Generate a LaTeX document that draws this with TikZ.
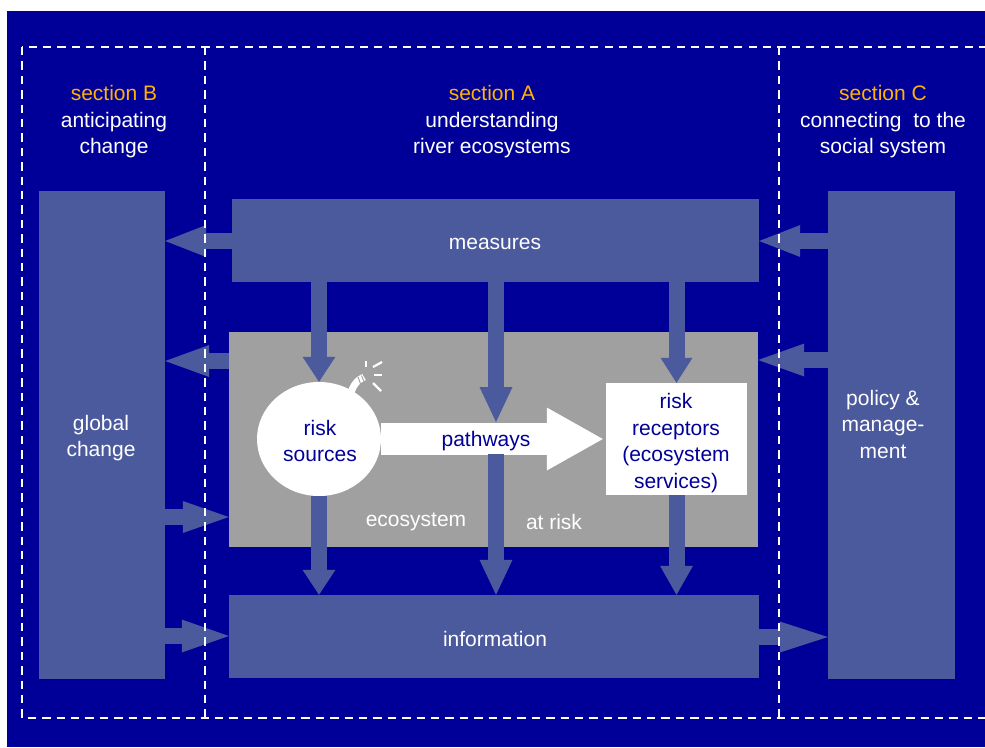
\documentclass[tikz,border=0pt]{standalone}
\usepackage{fontspec}
\setmainfont{Liberation Sans}
\usetikzlibrary{arrows.meta,shapes.geometric}
\definecolor{bgblue}{HTML}{000099}
\definecolor{boxc}{HTML}{4B5A9C}
\definecolor{ecogray}{HTML}{A0A0A0}
\definecolor{secorange}{HTML}{FFB300}
\definecolor{txtblue}{HTML}{000099}
\tikzset{
  box/.style={fill=boxc, draw=none, inner sep=0pt},
  lbl/.style={inner sep=0pt, align=center, text=white, font=\fontsize{21}{26.5}\selectfont},
  blockarrow/.style={draw=boxc, line width=16pt},
  dashline/.style={draw=white, line width=2pt, dash pattern=on 8.3pt off 6.1pt}
}
\begin{document}
\begin{tikzpicture}[x=1pt,y=-1pt, font=\fontsize{21}{26.5}\selectfont]
\useasboundingbox (0,0) rectangle (985,747);
\fill[bgblue] (7,11) rectangle (985,747);

% boxes
\node[box, minimum width=126pt, minimum height=488pt] (global) at (102,435) {};
\node[lbl] (globallbl) at (101,438) {global\\change};
\node[box, minimum width=527pt, minimum height=83pt] (measures) at (495.5,240.5) {};
\node[lbl] (measureslbl) at (495,244) {measures};
\node[fill=ecogray, inner sep=0pt, minimum width=529pt, minimum height=215pt] (eco) at (493.5,439.5) {};
\node[box, minimum width=530pt, minimum height=83pt] (info) at (494,636.5) {};
\node[lbl] (infolbl) at (495,638.5) {information};
\node[box, minimum width=127pt, minimum height=488pt] (policy) at (891.5,435) {};
\node[lbl] (policylbl) at (883,424) {policy \&\\manage-\\ment};

% ecosystem labels
\node[lbl] (ecolbl) at (416,522) {ecosystem};
\node[lbl] (risklbl) at (554,522) {at risk};

% risk sources and receptors
\node[ellipse, fill=white, inner sep=0pt, minimum width=124pt, minimum height=114pt] (sources) at (319,439) {};
\node[lbl, text=txtblue] (sourceslbl) at (320,441) {risk\\sources};
\node[fill=white, inner sep=0pt, minimum width=141pt, minimum height=112pt] (receptors) at (676.5,439) {};
\node[lbl, text=txtblue] (receptorslbl) at (676,443) {risk\\receptors\\(ecosystem\\services)};

% bomb fuse and sparks
\draw[white, line width=7pt] (350,397) .. controls (352,386) and (357,380) .. (364,377);
\draw[ecogray, line width=0.9pt] (358,377) -- (361,385);
\draw[ecogray, line width=0.9pt] (361.5,375.5) -- (364.5,383);
\draw[white, line width=2.2pt] (366,361) -- (366,367);
\draw[white, line width=2.2pt] (373,367) -- (382,362);
\draw[white, line width=2.2pt] (374,375) -- (382,375);
\draw[white, line width=2.2pt] (373,383) -- (381,391);

% pathways
\coordinate (pwtop) at (496,422);
\coordinate (pwbot) at (496,454);
\draw[white, line width=32pt, -{Triangle[length=56pt,width=63pt,line width=0pt]}, shorten >=3pt]
  (sources.east) -- (receptors.west);
\node[lbl, text=txtblue] (pwlbl) at (486,441) {pathways};

% horizontal arrows
\draw[blockarrow, -{Triangle[length=41pt,width=32pt,line width=0pt]}] (measures.west |- 0,241) -- (global.east |- 0,241);
\draw[blockarrow, -{Triangle[length=44pt,width=32pt,line width=0pt]}] (eco.west |- 0,361) -- (global.east |- 0,361);
\draw[blockarrow, -{Triangle[length=46pt,width=32pt,line width=0pt]}] (global.east |- 0,517) -- (eco.west |- 0,517);
\draw[blockarrow, -{Triangle[length=47pt,width=33pt,line width=0pt]}] (global.east |- 0,636) -- (info.west |- 0,636);
\draw[blockarrow, -{Triangle[length=41pt,width=32pt,line width=0pt]}] (policy.west |- 0,241) -- (measures.east |- 0,241);
\draw[blockarrow, -{Triangle[length=46pt,width=33pt,line width=0pt]}] (policy.west |- 0,360) -- (eco.east |- 0,360);
\draw[blockarrow, -{Triangle[length=48pt,width=31pt,line width=0pt]}] (info.east |- 0,637) -- (policy.west |- 0,637);

% vertical arrows
\draw[blockarrow, -{Triangle[length=25pt,width=33pt,line width=0pt]}] (measures.south -| sources.north) -- (sources.north);
\draw[blockarrow, -{Triangle[length=35pt,width=33pt,line width=0pt]}] (measures.south -| pwtop) -- (pwtop);
\draw[blockarrow, -{Triangle[length=25pt,width=32pt,line width=0pt]}] (measures.south -| receptors.north) -- (receptors.north);
\draw[blockarrow, -{Triangle[length=25pt,width=33pt,line width=0pt]}] (sources.south) -- (info.north -| sources.south);
\draw[blockarrow, -{Triangle[length=35pt,width=33pt,line width=0pt]}] (pwbot) -- (info.north -| pwbot);
\draw[blockarrow, -{Triangle[length=29pt,width=33pt,line width=0pt]}] (receptors.south) -- (info.north -| receptors.south);

% section headers
\node[lbl] (secB) at (114,122) {\textcolor{secorange}{section B}\\anticipating\\change};
\node[lbl] (secA) at (492,122) {\textcolor{secorange}{section A}\\understanding\\river ecosystems};
\node[lbl] (secC) at (883,122) {\textcolor{secorange}{section C}\\connecting\ \ to the\\social system};

% dashed section frames
\begin{scope}
\clip (0,0) rectangle (985,747);
\draw[dashline] (22,47) rectangle (1000,718);
\draw[dashline] (205,47) -- (205,718);
\draw[dashline] (779,47) -- (779,718);
\end{scope}
\end{tikzpicture}
\end{document}
